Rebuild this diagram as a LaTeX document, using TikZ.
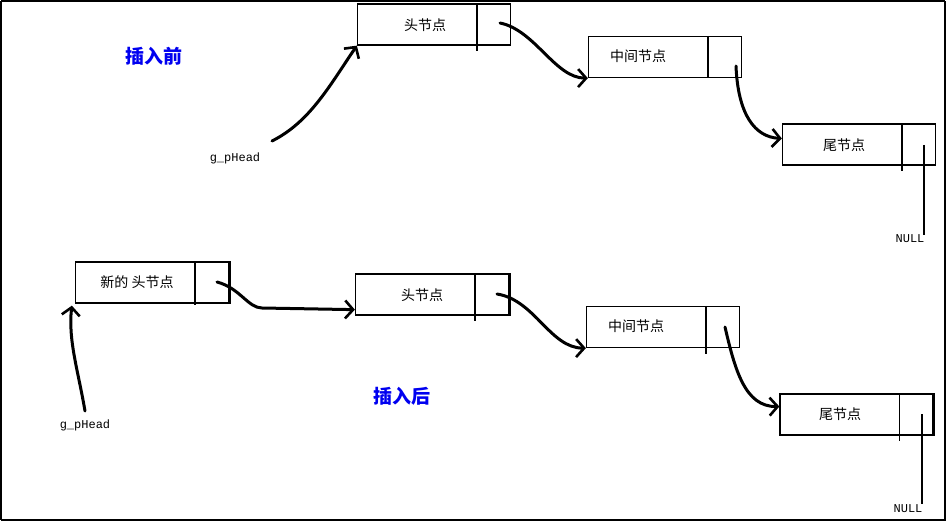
\documentclass[tikz,border=0pt]{standalone}
\usepackage{fontspec}
\newfontfamily\cjk{Noto Sans CJK SC}
\newfontfamily\monof{Liberation Mono}
\usetikzlibrary{arrows.meta,calc}
\definecolor{titleblue}{RGB}{0,0,240}
\begin{document}
\begin{tikzpicture}[x=1pt,y=-1pt,
  box/.style={draw, line width=1.3pt, minimum width=153pt, minimum height=41pt, inner sep=0pt},
  lbl/.style={font=\cjk\fontsize{14}{16}\selectfont, inner sep=0pt},
  title/.style={font=\cjk\bfseries\fontsize{19}{22}\selectfont, text=titleblue, inner sep=0pt},
  mono/.style={font=\monof\fontsize{12}{14}\selectfont, inner sep=0pt},
  divider/.style={line width=1.3pt},
  thickedge/.style={line width=2.8pt},
  link/.style={line width=3pt, line cap=round, line join=round, -{Straight Barb[length=8pt,width=18pt,line width=2.6pt]}},
  nullline/.style={line width=2.6pt}]
\useasboundingbox (0,0) rectangle (950,524);
% frame
\draw[line width=1.5pt] (1,1) -- (945,1);
\draw[line width=1.5pt] (1,1) -- (1,520);
\draw[line width=2.8pt] (945,1) -- (945,520) -- (1,520);

% titles
\node[title] (t1) at (154,56) {插入前};
\node[title] (t2) at (402,396) {插入后};

% ---------- before ----------
\node[box] (A1) at (434,24.5) {};
\node[lbl] (A1t) at (425,25) {头节点};
\draw[divider] ($(A1.north west)+(120,0)$) -- ++(0,48);

\node[box] (B1) at (665,57) {};
\node[lbl] (B1t) at (638,56) {中间节点};
\draw[divider] ($(B1.north west)+(120,0)$) -- ++(0,42);

\node[box] (C1) at (859,144.5) {};
\node[lbl] (C1t) at (844,145) {尾节点};
\draw[divider] ($(C1.north west)+(120,0)$) -- ++(0,48);

\node[mono] (g1) at (235,158) {g\_pHead};
\node[mono] (n1) at (910,239) {NULL};
\coordinate (g1s) at (272,141);
\coordinate (A1p) at (500,23);
\coordinate (B1p) at (736,66);
\coordinate (C1p) at (924,145);

\draw[link] (g1s) .. controls (310,122) and (330,85) .. (A1.south west);
\draw[link] (A1p) .. controls (535,30) and (555,78) .. (B1.south west);
\draw[link] (B1p) .. controls (738,115) and (755,137) .. ($(C1.west)+(0,-6)$);
\draw[nullline] (C1p) -- (n1.north -| C1p);

% ---------- after ----------
\node[box] (N2) at (152,282.5) {};
\node[lbl] (N2t) at (137,282) {新的 头节点};
\draw[divider] ($(N2.north west)+(120,0)$) -- ++(0,44);
\draw[thickedge] (N2.north east) -- (N2.south east);

\node[box] (A2) at (432,294.5) {};
\node[lbl] (A2t) at (422,295) {头节点};
\draw[divider] ($(A2.north west)+(120,0)$) -- ++(0,48);
\draw[thickedge] (A2.north east) -- (A2.south east);

\node[box] (B2) at (663,327) {};
\node[lbl] (B2t) at (636,326) {中间节点};
\draw[divider] ($(B2.north west)+(120,0)$) -- ++(0,48);

\node[box] (C2) at (856.5,414.5) {};
\node[lbl] (C2t) at (840,414) {尾节点};
\draw[divider] ($(C2.north west)+(120,0)$) -- ++(0,48);
\draw[thickedge] (C2.north east) -- (C2.south east);

\node[mono] (g2) at (85,425) {g\_pHead};
\node[mono] (n2) at (908,509) {NULL};
\coordinate (g2s) at (85,411);
\coordinate (N2p) at (217,282);
\coordinate (A2p) at (497,294);
\coordinate (B2p) at (725,327);
\coordinate (C2p) at (922,414);

\draw[link] (g2s) .. controls (78,370) and (68,340) .. ($(N2.south west)+(-3,2)$);
\draw[link] (N2p) .. controls (240,288) and (248,308) .. (262,308) -- ($(A2.south west)+(0,-6)$);
\draw[link] (A2p) .. controls (535,300) and (550,348) .. (B2.south west);
\draw[link] (B2p) .. controls (735,370) and (745,407) .. ($(C2.west)+(0,-8)$);
\draw[nullline] (C2p) -- ($(n2.north -| C2p)+(0,-1)$);
\end{tikzpicture}
\end{document}
